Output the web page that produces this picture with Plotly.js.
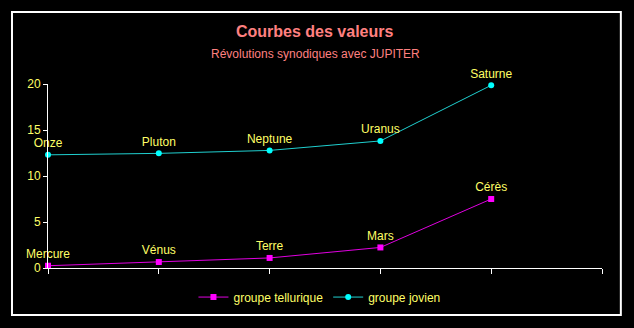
<!DOCTYPE html>
<html>
<head>
<meta charset="utf-8">
<script src="https://cdn.plot.ly/plotly-3.0.1.min.js"></script>
<style>
  html, body { margin: 0; padding: 0; background: #000; }
  #chart { width: 634px; height: 328px; }
</style>
</head>
<body>
<div id="chart"></div>
<script>
const positions = [0, 1, 2, 3, 4];
const telluricNames = ["Mercure", "Vénus", "Terre", "Mars", "Cérès"];
const telluricValues = [0.246, 0.649, 1.092, 2.235, 7.5];
const jovianNames = ["Onze", "Pluton", "Neptune", "Uranus", "Saturne"];
const jovianValues = [12.3, 12.46, 12.78, 13.81, 19.86];
const yTicks = [0, 5, 10, 15, 20];
const seriesNames = ["groupe tellurique", "groupe jovien"];

const yellow = "#ffff66";
const font = "Arial, 'Liberation Sans', sans-serif";

const traces = [
  {
    x: positions, y: telluricValues, text: telluricNames, name: seriesNames[0],
    type: "scatter", mode: "lines+markers+text", textposition: "top center",
    textfont: { color: yellow, size: 12, family: font },
    line: { color: "#e000e0", width: 1 },
    marker: { color: "#ff00ff", symbol: "square", size: 6 },
    cliponaxis: false
  },
  {
    x: positions, y: jovianValues, text: jovianNames, name: seriesNames[1],
    type: "scatter", mode: "lines+markers+text", textposition: "top center",
    textfont: { color: yellow, size: 12, family: font },
    line: { color: "#20d0d0", width: 1 },
    marker: { color: "#00ffff", symbol: "circle", size: 6 },
    cliponaxis: false
  }
];

const layout = {
  width: 634, height: 328,
  paper_bgcolor: "#000", plot_bgcolor: "#000",
  margin: { l: 48, r: 32, t: 84, b: 60 },
  font: { family: font, size: 12, color: yellow },
  showlegend: true,
  legend: {
    orientation: "h", x: 0.49, xanchor: "center", y: -0.158, yanchor: "middle",
    font: { color: yellow, size: 12, family: font }, bgcolor: "rgba(0,0,0,0)"
  },
  xaxis: {
    range: [0, 5], showgrid: false, zeroline: false,
    showline: true, linecolor: "#fff", linewidth: 1,
    tickmode: "array", tickvals: [0, 1, 2, 3, 4, 5], showticklabels: false,
    ticks: "outside", ticklen: 5, tickcolor: "#fff", fixedrange: true
  },
  yaxis: {
    range: [0, 20], showgrid: false, zeroline: false,
    showline: true, linecolor: "#fff", linewidth: 1,
    tickmode: "array", tickvals: yTicks,
    ticks: "outside", ticklen: 4, tickcolor: "#fff",
    tickfont: { color: yellow, size: 12, family: font }, fixedrange: true
  },
  annotations: [
    { text: "<b>Courbes des valeurs</b>", xref: "paper", yref: "paper", x: 0.482, y: 1.288,
      xanchor: "center", yanchor: "middle", showarrow: false,
      font: { color: "#ff8080", size: 16, family: font } },
    { text: "Révolutions synodiques avec JUPITER", xref: "paper", yref: "paper", x: 0.482, y: 1.163,
      xanchor: "center", yanchor: "middle", showarrow: false,
      font: { color: "#ff8080", size: 12, family: font } }
  ],
  shapes: [
    { type: "rect", xref: "paper", yref: "paper", x0: -0.065, x1: 1.034, y0: -0.255, y1: 1.391,
      line: { color: "#fff", width: 2 }, fillcolor: "rgba(0,0,0,0)", layer: "below" }
  ]
};

Plotly.newPlot("chart", traces, layout, { displayModeBar: false, staticPlot: true });
</script>
</body>
</html>
